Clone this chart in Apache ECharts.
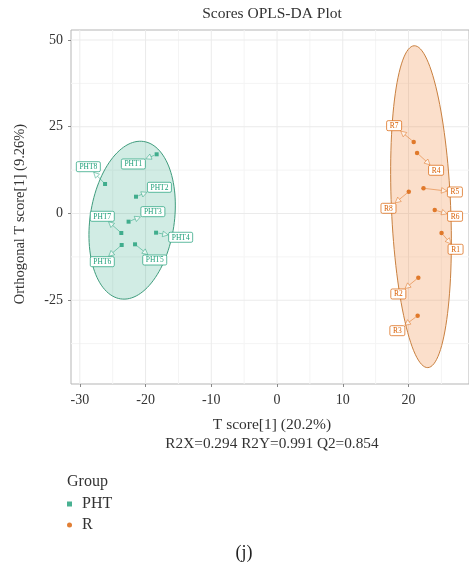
<!DOCTYPE html>
<html><head><meta charset="utf-8">
<script src="https://cdn.jsdelivr.net/npm/echarts@6/dist/echarts.min.js"></script>
<style>html,body{margin:0;padding:0;background:#fff}#c{width:469px;height:569px}</style>
</head><body><div id="c"></div>
<script>
// ---- data ----
const phtNames = ['PHT1','PHT2','PHT3','PHT4','PHT5','PHT6','PHT7','PHT8'];
const phtX = [-18.31, -21.45, -22.58, -18.40, -21.60, -23.63, -23.69, -26.16];
const phtY = [17.06, 4.84, -2.36, -5.53, -8.88, -9.08, -5.62, 8.50];
const rNames = ['R1','R2','R3','R4','R5','R6','R7','R8'];
const rX = [25.03, 21.49, 21.39, 21.30, 22.28, 23.99, 20.79, 20.04];
const rY = [-5.62, -18.50, -29.45, 17.44, 7.26, 1.01, 20.61, 6.28];
// confidence ellipses: centre x, centre y, major-axis vector (dx, dy), minor-axis vector (dx, dy)
const phtEllipse = [-22.04, -1.93, 1.76, 22.68, 6.33, -1.83];
const rEllipse = [21.9, 1.96, -1.04, 46.38, 4.50, 0.375];
const xTicks = [-30, -20, -10, 0, 10, 20];
const yTicks = [-25, 0, 25, 50];
const xMinor = [-25, -15, -5, 5, 15, 25];
const yMinor = [-37.5, -12.5, 12.5, 37.5];
const groups = ['PHT', 'R'];

// ---- layout (pixel offsets of repelled labels, not data) ----
const labelOffsets = {
  PHT1: [-23.3, 9.7], PHT2: [23.4, -9.4], PHT3: [24.3, -10], PHT4: [24.6, 4.6],
  PHT5: [19.7, 15.7], PHT6: [-19.4, 16.7], PHT7: [-19, -16.7], PHT8: [-16.7, -17.3],
  R1: [14, 16.3], R2: [-20, 16.3], R3: [-20.3, 15], R4: [19, 17.3],
  R5: [31.4, 3.7], R6: [20.3, 6.3], R7: [-19.6, -16.3], R8: [-20.3, 16.6]
};
const X_MIN = -31.34, X_MAX = 29.2, Y_MIN = -49.14, Y_MAX = 52.88;
const GREEN = '#1b9e77', ORANGE = '#d95f02';
const FONT = '"Liberation Serif", "DejaVu Serif", serif';

const chart = echarts.init(document.getElementById('c'), null, {renderer: 'canvas'});

function gridSeries(values, isX, color) {
  return {
    type: 'custom', silent: true, z: 0, legendHoverLink: false,
    data: values.map(v => [v]),
    renderItem: function (params, api) {
      const v = api.value(0);
      const a = isX ? api.coord([v, Y_MIN]) : api.coord([X_MIN, v]);
      const b = isX ? api.coord([v, Y_MAX]) : api.coord([X_MAX, v]);
      return {type: 'line', shape: {x1: a[0], y1: a[1], x2: b[0], y2: b[1]},
              style: {stroke: color, lineWidth: 1}};
    }
  };
}

function ellipseSeries(e, fill, stroke) {
  return {
    type: 'custom', silent: true, z: 1,
    data: [e],
    renderItem: function (params, api) {
      const pts = [];
      const N = 120;
      for (let i = 0; i < N; i++) {
        const t = 2 * Math.PI * i / N;
        const c = Math.cos(t), s = Math.sin(t);
        pts.push(api.coord([e[0] + e[2] * c + e[4] * s, e[1] + e[3] * c + e[5] * s]));
      }
      return {type: 'polygon', shape: {points: pts},
              style: {fill: fill, stroke: stroke, lineWidth: 1}};
    }
  };
}

function labelSeries(names, xs, ys, color, arrowColor, boxW) {
  return {
    type: 'custom', silent: true, z: 3,
    data: names.map((n, i) => [xs[i], ys[i], i]),
    renderItem: function (params, api) {
      const idx = api.value(2);
      const name = names[idx];
      const p = api.coord([api.value(0), api.value(1)]);
      const off = labelOffsets[name];
      const c = [p[0] + off[0], p[1] + off[1]];
      const w = boxW, h = 10;
      const dx = p[0] - c[0], dy = p[1] - c[1];
      const s = Math.min((w / 2 + 0.5) / Math.abs(dx || 1e-6), (h / 2 + 0.5) / Math.abs(dy || 1e-6));
      const end = [c[0] + dx * s, c[1] + dy * s];
      const len = Math.hypot(dx, dy);
      const ux = -dx / len, uy = -dy / len;
      const start = [p[0] + ux * 2.5, p[1] + uy * 2.5];
      const ah = 5.5, aw = 2.8;
      const base = [end[0] - ux * ah, end[1] - uy * ah];
      const tri = [end, [base[0] - uy * aw, base[1] + ux * aw], [base[0] + uy * aw, base[1] - ux * aw]];
      return {
        type: 'group',
        children: [
          {type: 'line', shape: {x1: start[0], y1: start[1], x2: base[0], y2: base[1]},
           style: {stroke: arrowColor, lineWidth: 0.9}},
          {type: 'polygon', shape: {points: tri},
           style: {fill: 'rgba(255,255,255,0.6)', stroke: arrowColor, lineWidth: 0.9}},
          {type: 'rect', shape: {x: c[0] - w / 2, y: c[1] - h / 2, width: w, height: h, r: 1.5},
           style: {fill: '#fff', stroke: color, lineWidth: 0.7}},
          {type: 'text', x: c[0], y: c[1] + 0.5,
           style: {text: name, fill: color, font: '7.5px ' + FONT, align: 'center', verticalAlign: 'middle'}}
        ]
      };
    }
  };
}

const option = {
  backgroundColor: '#fff',
  animation: false,
  grid: {left: 71, top: 30, bottom: 185, right: -7.6, show: true, borderColor: '#b5b5b5', borderWidth: 1, containLabel: false},
  xAxis: {
    type: 'value', min: X_MIN, max: X_MAX,
    axisLine: {show: false, onZero: false},
    splitLine: {show: false},
    axisTick: {show: true, customValues: xTicks, length: 3, lineStyle: {color: '#888'}},
    axisLabel: {customValues: xTicks, color: '#333', fontFamily: FONT, fontSize: 14, margin: 9}
  },
  yAxis: {
    type: 'value', min: Y_MIN, max: Y_MAX,
    axisLine: {show: false, onZero: false},
    splitLine: {show: false},
    axisTick: {show: true, customValues: yTicks, length: 3, lineStyle: {color: '#888'}},
    axisLabel: {customValues: yTicks, color: '#333', fontFamily: FONT, fontSize: 14, margin: 8}
  },
  legend: {
    orient: 'vertical', left: 62, top: 491,
    data: [{name: 'PHT', icon: 'rect'}, {name: 'R', icon: 'circle'}],
    itemWidth: 5, itemHeight: 5, itemGap: 5,
    textStyle: {fontFamily: FONT, fontSize: 16, color: '#333', lineHeight: 16, padding: [0, 0, 0, 5]},
    selectedMode: false
  },
  graphic: [
    {type: 'text', x: 272, y: 14, style: {text: 'Scores OPLS-DA Plot', font: '15.5px ' + FONT, fill: '#333', align: 'center', verticalAlign: 'middle'}},
    {type: 'text', x: 272, y: 425, style: {text: 'T score[1] (20.2%)', font: '15.5px ' + FONT, fill: '#333', align: 'center', verticalAlign: 'middle'}},
    {type: 'text', x: 272, y: 444, style: {text: 'R2X=0.294 R2Y=0.991 Q2=0.854', font: '15.3px ' + FONT, fill: '#333', align: 'center', verticalAlign: 'middle'}},
    {type: 'text', x: 20, y: 214, rotation: Math.PI / 2, style: {text: 'Orthogonal T score[1] (9.26%)', font: '14.5px ' + FONT, fill: '#333', align: 'center', verticalAlign: 'middle'}},
    {type: 'text', x: 67, y: 482, style: {text: 'Group', font: '16px ' + FONT, fill: '#333', align: 'left', verticalAlign: 'middle'}},
    {type: 'text', x: 244, y: 553, style: {text: '(j)', font: '18px ' + FONT, fill: '#222', align: 'center', verticalAlign: 'middle'}}
  ],
  series: [
    gridSeries(xMinor, true, '#f4f4f4'),
    gridSeries(yMinor, false, '#f4f4f4'),
    gridSeries(xTicks, true, '#ebebeb'),
    gridSeries(yTicks, false, '#ebebeb'),
    ellipseSeries(phtEllipse, 'rgba(27,158,119,0.2)', '#3f9c7d'),
    ellipseSeries(rEllipse, 'rgba(240,140,70,0.28)', '#c9803f'),
    {name: 'PHT', type: 'scatter', z: 2, symbol: 'rect', symbolSize: 4, itemStyle: {color: GREEN},
     data: phtX.map((x, i) => [x, phtY[i]])},
    {name: 'R', type: 'scatter', z: 2, symbol: 'circle', symbolSize: 4.5, itemStyle: {color: ORANGE},
     data: rX.map((x, i) => [x, rY[i]])},
    labelSeries(phtNames, phtX, phtY, GREEN, 'rgba(27,158,119,0.55)', 24),
    labelSeries(rNames, rX, rY, ORANGE, 'rgba(217,95,2,0.5)', 15)
  ]
};
chart.setOption(option);
</script></body></html>
